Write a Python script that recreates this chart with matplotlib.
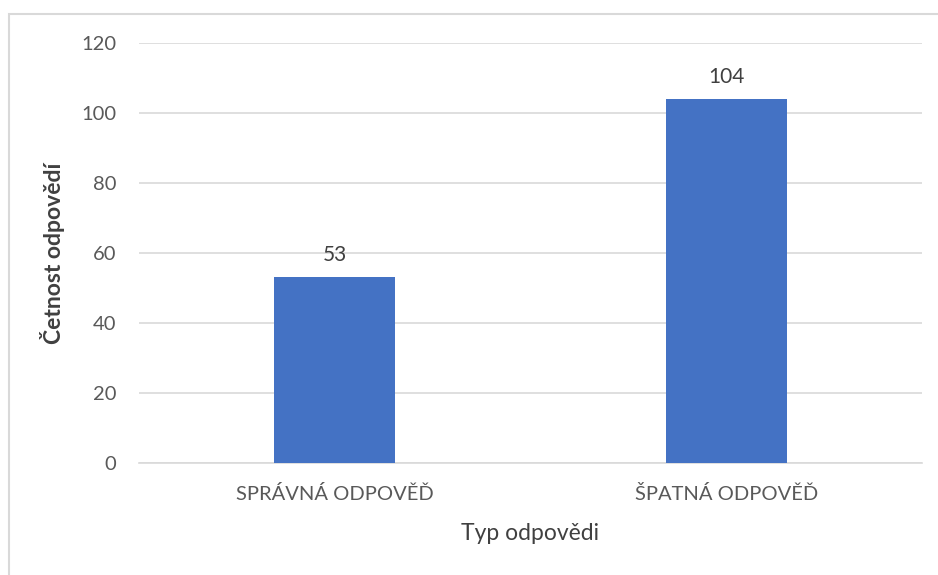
import matplotlib
matplotlib.use("Agg")
import matplotlib.pyplot as plt
from matplotlib.patches import Rectangle

# data
categories = ["SPRÁVNÁ ODPOVĚĎ", "ŠPATNÁ ODPOVĚĎ"]
counts = [53, 104]
y_ticks = [0, 20, 40, 60, 80, 100, 120]

plt.rcParams['font.family'] = ['Lato', 'DejaVu Sans']

fig = plt.figure(figsize=(9.38, 5.75), dpi=100)
ax = fig.add_axes([0.148, 0.195, 0.835, 0.73])

# light frame round the whole chart, running off the right/bottom edge
fig.patches.append(Rectangle((9 / 938, -0.1), 1.2, 1 - 14 / 575 + 0.1,
                             transform=fig.transFigure, fill=False,
                             edgecolor='#D9D9D9', linewidth=1.5))

x = range(len(categories))
bars = ax.bar(x, counts, width=0.31, color='#4472C4', zorder=3)

for b, v in zip(bars, counts):
    ax.annotate(str(v), (b.get_x() + b.get_width() / 2, v),
                xytext=(0, 9), textcoords='offset points',
                ha='center', va='bottom', fontsize=15, color='#404040')

ax.set_xlim(-0.5, 1.5)
ax.set_ylim(0, 120)
ax.set_yticks(y_ticks)
ax.set_xticks(list(x))
ax.set_xticklabels(categories)
ax.grid(axis='y', color='#D9D9D9', linewidth=1.2, zorder=0)
ax.tick_params(axis='both', length=0, labelsize=14.5, labelcolor='#595959')
ax.tick_params(axis='y', pad=16)
ax.tick_params(axis='x', pad=16)

for side in ['top', 'right', 'left']:
    ax.spines[side].set_visible(False)
ax.spines['bottom'].set_color('#D9D9D9')
ax.spines['bottom'].set_linewidth(1.2)

ax.set_ylabel("Četnost odpovědí", fontsize=16.5, color='#404040',
              fontweight='bold', labelpad=12)
ax.set_xlabel("Typ odpovědi", fontsize=16.5, color='#404040', labelpad=14)

fig.savefig("out.png", dpi=100)
